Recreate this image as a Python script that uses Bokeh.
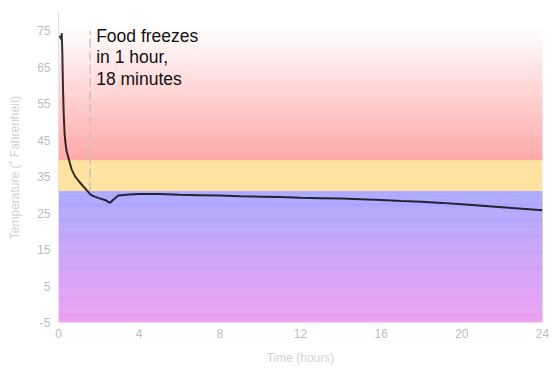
from bokeh.plotting import figure
from bokeh.models import Range1d, FixedTicker, Label
from bokeh.embed import file_html
from bokeh.resources import INLINE

# ---- data ----
hours = [0.05, 0.17, 0.16, 0.19, 0.22, 0.26, 0.30, 0.34, 0.40, 0.50, 0.65, 0.83,
         1.0, 1.2, 1.44, 1.6, 1.8, 2.0, 2.3, 2.56, 2.7, 2.97, 3.5, 4, 5, 6, 7, 8,
         9, 10, 11, 12, 13, 14, 15, 16, 17, 18, 19, 20, 21, 22, 23, 24]
temps = [73.6, 72.4, 74.4, 69.0, 60.0, 52.0, 47.0, 44.5, 42.0, 40.0, 37.0, 35.0,
         33.8, 32.5, 31.0, 30.0, 29.5, 29.1, 28.6, 27.8, 28.6, 29.8, 30.1, 30.2, 30.2, 30.0, 29.9, 29.8,
         29.6, 29.5, 29.4, 29.2, 29.1, 29.0, 28.8, 28.6, 28.3, 28.1, 27.8, 27.4, 27.0, 26.6, 26.2, 25.8]

freeze_hour = 1.57
freeze_label = "Food freezes\nin 1 hour,\n18 minutes"

zone_bounds = [-5, 31.1, 39.6, 76]        # frozen / borderline / danger
y_ticks = [-5, 5, 15, 25, 35, 45, 55, 65, 75]
x_ticks = [0, 4, 8, 12, 16, 20, 24]

FONT = "Liberation Sans"


def mix(c1, c2, t):
    return "#%02x%02x%02x" % tuple(round(a + (b - a) * t) for a, b in zip(c1, c2))


p = figure(frame_width=484, frame_height=310, output_backend="svg", toolbar_location=None,
           x_range=Range1d(0, 24), y_range=Range1d(-5, 80),
           min_border_left=58, min_border_top=12, min_border_bottom=40, min_border_right=10)
p.outline_line_color = None
p.grid.visible = False
p.background_fill_color = "white"
p.border_fill_color = "white"

# gradient bands built from thin strips
b, t, c = [], [], []
n = 140
lo, hi = zone_bounds[0], zone_bounds[1]
for i in range(n):
    b.append(lo + (hi - lo) * i / n)
    t.append(lo + (hi - lo) * (i + 1) / n)
    c.append(mix((0xee, 0x9f, 0xf2), (0xa8, 0xa8, 0xff), (i + 0.5) / n))
b.append(zone_bounds[1]); t.append(zone_bounds[2]); c.append("#ffe3a1")
lo, hi = zone_bounds[2], zone_bounds[3]
for i in range(n):
    b.append(lo + (hi - lo) * i / n)
    t.append(lo + (hi - lo) * (i + 1) / n)
    c.append(mix((0xff, 0xa6, 0xa6), (0xff, 0xff, 0xff), (i + 0.5) / n))
p.quad(left=0, right=24, bottom=b, top=t, fill_color=c, line_color=c, line_width=0.5)

# freeze marker
p.segment(x0=[freeze_hour], y0=[zone_bounds[1]], x1=[freeze_hour], y1=[75],
          line_color="#c4c4c4", line_width=1.5, line_dash="9 4")
p.add_layout(Label(x=freeze_hour, y=76.4, x_offset=6, text=freeze_label,
                   text_baseline="top", text_font=FONT, text_font_size="17.5px",
                   text_color="#111111", text_line_height=1.08))

# temperature curve
p.line(hours, temps, line_color="black", line_alpha=0.8, line_width=2)

# axes
for ax in (p.xaxis[0], p.yaxis[0]):
    ax.major_tick_line_color = None
    ax.minor_tick_line_color = None
    ax.major_tick_out = 0
    ax.major_tick_in = 0
    ax.major_label_text_font = FONT
    ax.major_label_text_font_size = "12px"
    ax.major_label_text_color = "#bdbdbd"
    ax.axis_label_text_font = FONT
    ax.axis_label_text_font_size = "12px"
    ax.axis_label_text_font_style = "normal"
    ax.axis_label_text_color = "#d2d2d2"

p.yaxis.ticker = FixedTicker(ticks=y_ticks)
p.xaxis.ticker = FixedTicker(ticks=x_ticks)
p.yaxis.major_label_overrides = {v: str(v) for v in y_ticks}
p.yaxis.axis_line_color = "#e2e2e2"
p.xaxis.axis_line_color = None
p.yaxis.axis_label = "Temperature (˚ Fahrenheit)"
p.xaxis.axis_label = "Time (hours)"
p.yaxis.major_label_standoff = 8
p.xaxis.major_label_standoff = 6
p.yaxis.axis_label_standoff = 12
p.xaxis.axis_label_standoff = 10

open("out.html", "w").write(file_html(p, INLINE))
